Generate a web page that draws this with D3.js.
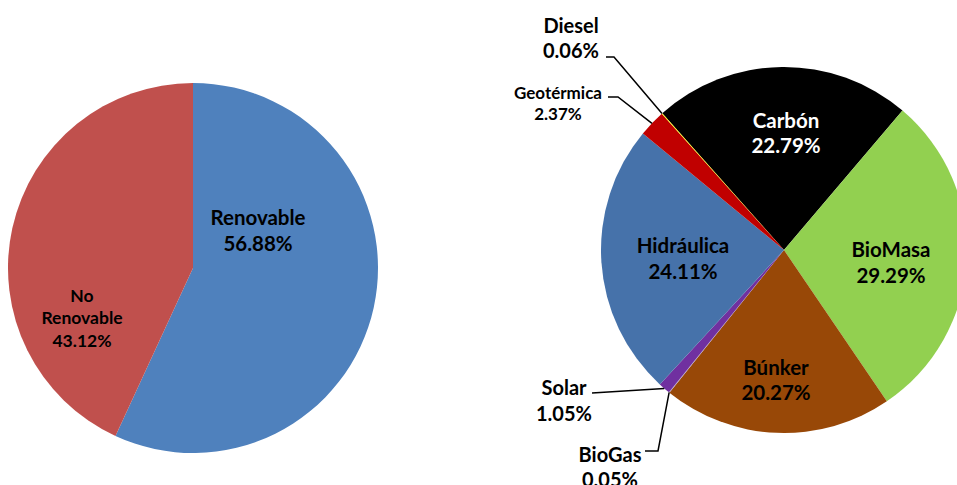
<!DOCTYPE html>
<html lang="es">
<head>
    <meta charset="UTF-8" />
    <title>Generación eléctrica por fuente</title>
    <script src="https://d3js.org/d3.v7.min.js"></script>
    <style>
        body { margin: 0; background: #fff; }
        text { font-family: Lato, "Liberation Sans", Arial, sans-serif; font-weight: bold; }
    </style>
</head>
<body>
    <script>
        var w = 957;
        var h = 485;

        // Left pie data
        var tipoNames = ["Renovable", "No Renovable"];
        var tipoValues = [56.88, 43.12];
        var tipoColors = ["#4F81BD", "#C0504D"];

        // Right pie data (clockwise order)
        var fuenteNames = ["Carbón", "BioMasa", "Búnker", "BioGas", "Solar", "Hidráulica", "Geotérmica", "Diesel"];
        var fuenteValues = [22.79, 29.29, 20.27, 0.05, 1.05, 24.11, 2.37, 0.06];
        var fuenteColors = ["#000000", "#92D050", "#984807", "#B3A2C7", "#7030A0", "#4672AA", "#C00000", "#FFFF00"];

        var svg = d3.select("body")
            .append("svg")
            .attr("width", w)
            .attr("height", h);

        function fmt(v) {
            return v.toFixed(2) + "%";
        }

        // ---------- left pie ----------
        var leftG = svg.append("g").attr("transform", "translate(193,268)");
        var leftR = 185;

        var leftPie = d3.pie().sort(null).value(function(d) { return d; });
        var leftArc = d3.arc().innerRadius(0).outerRadius(leftR);

        leftG.selectAll("path")
            .data(leftPie(tipoValues))
            .enter()
            .append("path")
            .attr("d", leftArc)
            .attr("fill", function(d, i) { return tipoColors[i]; });

        // labels for left pie
        var leftLabels = [
            { lines: [tipoNames[0], fmt(tipoValues[0])], x: 258, y: 217, dy: 26, size: 20.5 },
            { lines: ["No", "Renovable", fmt(tipoValues[1])], x: 82, y: 295, dy: 22.5, size: 17.5 }
        ];

        leftLabels.forEach(function(l) {
            var t = svg.append("text")
                .attr("text-anchor", "middle")
                .attr("font-size", l.size)
                .attr("fill", "#000");
            l.lines.forEach(function(s, k) {
                t.append("tspan")
                    .attr("x", l.x)
                    .attr("y", l.y + k * l.dy)
                    .attr("dominant-baseline", "central")
                    .text(s);
            });
        });

        // ---------- right pie ----------
        var cx = 784, cy = 250, rightR = 183;
        var rightG = svg.append("g").attr("transform", "translate(" + cx + "," + cy + ")");

        var startA = -41.7 * Math.PI / 180;
        var rightPie = d3.pie().sort(null)
            .startAngle(startA)
            .endAngle(startA + 2 * Math.PI)
            .value(function(d) { return d; });
        var rightArc = d3.arc().innerRadius(0).outerRadius(rightR);
        var slices = rightPie(fuenteValues);

        rightG.selectAll("path")
            .data(slices)
            .enter()
            .append("path")
            .attr("d", rightArc)
            .attr("fill", function(d, i) { return fuenteColors[i]; });

        // label positions (center of the two-line block), inside or outside
        var labelPos = {
            "Carbón":     { x: 786, y: 120, dy: 25, size: 20.5, fill: "#fff" },
            "BioMasa":    { x: 891, y: 249, dy: 26, size: 20.5, fill: "#000" },
            "Búnker":     { x: 776, y: 367, dy: 25, size: 20.5, fill: "#000" },
            "Hidráulica": { x: 683, y: 245, dy: 26, size: 20.5, fill: "#000" },
            "Diesel":     { x: 571, y: 25, dy: 25, size: 20, fill: "#000", lead: [[606, 57], [614, 57]] },
            "Geotérmica": { x: 558, y: 92, dy: 21, size: 17, fill: "#000", lead: [[608, 97], [618, 97]] },
            "Solar":      { x: 564, y: 387, dy: 26, size: 20, fill: "#000", lead: [[592, 393]] },
            "BioGas":     { x: 610, y: 454, dy: 25, size: 20, fill: "#000", lead: [[645, 451], [658, 451]] }
        };

        slices.forEach(function(s, i) {
            var name = fuenteNames[i];
            var p = labelPos[name];

            if (p.lead) {
                // leader line ends on the slice edge at its middle angle
                var a = (s.startAngle + s.endAngle) / 2;
                var end = [cx + rightR * Math.sin(a), cy - rightR * Math.cos(a)];
                var pts = p.lead.concat([end]);
                svg.append("path")
                    .attr("d", d3.line()(pts))
                    .attr("fill", "none")
                    .attr("stroke", "#000")
                    .attr("stroke-width", 1.5);
            }

            var t = svg.append("text")
                .attr("text-anchor", "middle")
                .attr("font-size", p.size)
                .attr("fill", p.fill);
            [name, fmt(fuenteValues[i])].forEach(function(str, k) {
                t.append("tspan")
                    .attr("x", p.x)
                    .attr("y", p.y + k * p.dy)
                    .attr("dominant-baseline", "central")
                    .text(str);
            });
        });
    </script>
</body>
</html>
